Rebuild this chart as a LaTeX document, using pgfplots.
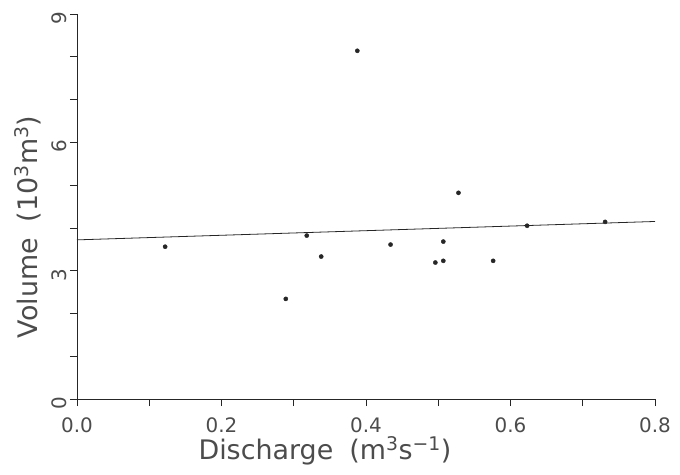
\documentclass[border=0pt]{standalone}
\usepackage{pgfplots}
\pgfplotsset{compat=1.18}
\usepackage{fontspec}
\setmainfont{DejaVu Sans}
\definecolor{ink}{gray}{0.3}
\begin{document}
\begin{tikzpicture}
\begin{axis}[
    at={(0,0)}, anchor=south west,
    scale only axis,
    width=578bp, height=385bp,
    xmin=0, xmax=0.8, ymin=0, ymax=9,
    axis lines*=left,
    axis line style={line width=0.7pt, color=black!85},
    tick style={line width=0.7pt, color=black!85},
    tick align=outside,
    major tick length=7bp, minor tick length=7bp,
    xtick={0,0.2,0.4,0.6,0.8},
    minor x tick num=1,
    ytick={0,3,6,9},
    minor y tick num=2,
    /pgf/number format/assume math mode=true,
    ticklabel style={font=\fontsize{20}{22}\selectfont, color=ink},
    xticklabel style={/pgf/number format/fixed,
        /pgf/number format/fixed zerofill,
        /pgf/number format/precision=1, yshift=-8bp},
    yticklabel style={rotate=90, anchor=south, xshift=-4bp},
    label style={font=\fontsize{27}{30}\selectfont, color=ink},
    xlabel={Discharge\hspace{0.6em}(m\textsuperscript{3}s\textsuperscript{−1})},
    ylabel={Volume\hspace{0.6em}(10\textsuperscript{3}m\textsuperscript{3})},
    xlabel style={at={(axis description cs:0.429,-0.158)}, anchor=base},
    ylabel style={at={(axis description cs:-0.069,0.447)}, anchor=base, rotate=0},
    clip=false,
]
\addplot[only marks, mark=*, mark size=2.1pt, color=black!85] coordinates {
    (0.122,3.56) (0.289,2.34) (0.318,3.82) (0.338,3.33) (0.388,8.14)
    (0.434,3.61) (0.496,3.19) (0.507,3.23) (0.507,3.68) (0.528,4.82)
    (0.576,3.23) (0.623,4.05) (0.731,4.14)
};
\addplot[line width=0.8pt, color=black!85] coordinates {(0,3.72) (0.8,4.15)};
\end{axis}
\pgfresetboundingbox
\path[use as bounding box] (-77bp,-76bp) rectangle (603bp,399bp);
\end{tikzpicture}
\end{document}
